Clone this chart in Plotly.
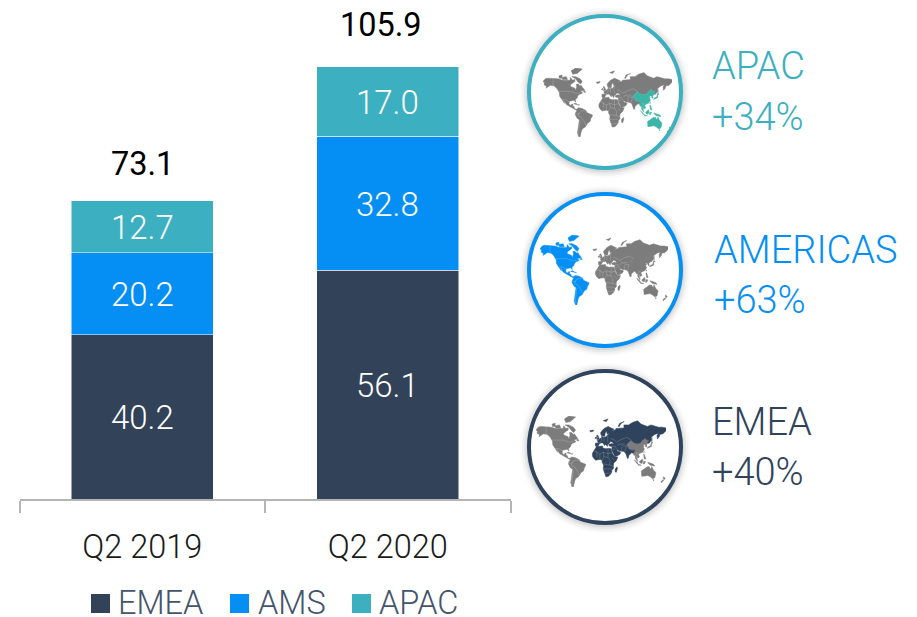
import numpy as np
import plotly.graph_objects as go

# the page body has an 8px margin, so the figure covers the window from (8, 8)
PAGE_MARGIN = 8
W, H = 917 - PAGE_MARGIN, 617 - PAGE_MARGIN

# ---- chart data ----
categories = ["Q2 2019", "Q2 2020"]
emea_values = [40.2, 56.1]
ams_values = [20.2, 32.8]
apac_values = [12.7, 17.0]
totals = [73.1, 105.9]
total_labels = ["73.1", "105.9"]

legend_names = ["EMEA", "AMS", "APAC"]
region_titles = ["APAC", "AMERICAS", "EMEA"]
region_growth = ["+34%", "+63%", "+40%"]

DARK = "#324359"
BLUE = "#058ff5"
CYAN = "#3cafc0"
TEAL = "#3cb5a6"
GREY = "#7c7c7c"
FONT = "Roboto"

# ---- world outlines, lon/lat ----
americas_land = [
    [(-168,66),(-162,70),(-156,71),(-141,70),(-128,70),(-115,68),(-108,68),(-95,68),(-94,72),(-88,68),(-82,69),(-82,66),(-87,64),(-94,61),(-94,58),(-88,57),(-82,55),(-80,51),(-79,54),(-77,57),(-78,62),(-73,62),(-68,59),(-65,60),(-61,56),(-56,52),(-60,50),(-66,50),(-65,48),(-61,46),(-66,44),(-70,43),(-74,40),(-76,35),(-81,31),(-80,26),(-82,27),(-84,30),(-90,29),(-97,28),(-98,22),(-95,18),(-91,19),(-90,21),(-87,21),(-88,16),(-84,15),(-83,10),(-80,9),(-77,8),(-80,7),(-85,10),(-92,14),(-97,16),(-105,20),(-109,26),(-113,31),(-110,23),(-115,30),(-118,34),(-123,39),(-124,47),(-130,54),(-138,59),(-148,60),(-153,58),(-160,55),(-158,58),(-165,61),(-164,64)],
    [(-90,73),(-80,73),(-68,70),(-62,66),(-67,62),(-73,65),(-80,70)],
    [(-118,72),(-105,73),(-102,69),(-115,69)],
    [(-92,80),(-80,83),(-62,82),(-76,77),(-88,76)],
    [(-125,74),(-116,75),(-118,71),(-124,71)],
    [(-59,48),(-53,47),(-56,51)],
    [(-85,22),(-80,23),(-74,20),(-78,20)],
    [(-74,19),(-69,19),(-71,18)],
    [(-78,8),(-72,12),(-62,10),(-52,5),(-50,0),(-44,-2),(-35,-6),(-35,-9),(-39,-15),(-41,-22),(-48,-26),(-53,-34),(-57,-36),(-62,-39),(-65,-45),(-68,-51),(-68,-55),(-72,-54),(-75,-47),(-73,-37),(-70,-18),(-76,-14),(-81,-5),(-80,0),(-77,4)],
]
emea_land = [
    [(-6,36),(10,37),(11,33),(20,31),(25,32),(33,31),(34,27),(38,18),(43,12),(51,12),(47,3),(40,-3),(39,-10),(40,-15),(35,-20),(35,-24),(32,-29),(26,-34),(19,-35),(15,-27),(12,-17),(13,-8),(9,-1),(9,4),(4,6),(-4,5),(-8,4),(-13,8),(-17,14),(-17,21),(-13,27),(-10,31)],
    [(49,-12),(50,-16),(47,-25),(44,-24),(44,-17)],
    [(-9,37),(-9,43),(-1,44),(-4,48),(2,51),(8,54),(8,57),(11,54),(20,55),(24,59),(30,60),(22,60),(21,65),(17,61),(16,56),(12,56),(6,58),(5,62),(14,68),(25,71),(33,69),(41,67),(34,65),(44,66),(46,68),(60,69),(68,69),(67,73),(80,73),(90,76),(104,78),(113,74),(130,71),(140,73),(160,70),(170,70),(180,69),(180,65),(172,60),(163,59),(162,55),(157,51),(156,57),(160,61),(150,59),(140,54),(141,49),(135,43),(131,43),(131,45),(135,48),(127,50),(123,53),(120,50),(116,48),(112,44),(105,42),(97,43),(90,46),(87,49),(80,43),(74,39),(79,33),(81,30),(88,28),(97,28),(92,21),(88,22),(80,15),(80,10),(77,8),(73,18),(72,21),(67,25),(61,25),(57,26),(52,28),(48,30),(51,25),(56,25),(59,22),(55,17),(45,13),(43,13),(39,21),(35,28),(35,32),(36,36),(28,37),(27,40),(34,42),(41,41),(37,45),(31,46),(28,42),(24,40),(23,36),(20,40),(14,45),(18,40),(16,38),(10,44),(3,43),(0,39),(-2,37),(-5,36)],
    [(-5,50),(1,51),(0,54),(-3,58),(-6,57),(-3,54)],
    [(-10,52),(-6,52),(-6,55),(-9,54)],
    [(-24,65),(-14,66),(-15,64),(-22,63)],
    [(52,71),(56,75),(68,77),(60,75),(55,71)],
    [(12,78),(25,80),(20,77)],
    [(142,54),(143,47),(142,46)],
]
apac_land = [
    [(131,43),(131,45),(135,48),(127,50),(123,53),(120,50),(116,48),(112,44),(105,42),(97,43),(90,46),(87,49),(80,43),(74,39),(79,33),(81,30),(88,28),(97,28),(92,21),(94,16),(98,16),(98,9),(103,2),(104,1),(103,6),(100,13),(105,9),(109,12),(106,19),(110,21),(118,24),(122,30),(119,35),(122,37),(118,39),(122,40),(125,39),(126,35),(129,35),(128,39),(130,42)],
    [(130,32),(136,34),(141,36),(141,41),(145,44),(141,45),(139,38),(132,35)],
    [(120,23),(122,25),(121,22)],
    [(120,18),(122,18),(124,12),(126,7),(122,7),(120,14)],
    [(109,1),(117,7),(118,1),(115,-4),(110,-2)],
    [(95,5),(104,-2),(106,-6),(101,-3)],
    [(105,-6),(114,-7),(114,-8),(106,-8)],
    [(119,-5),(120,1),(125,1),(122,-5)],
    [(131,-1),(141,-3),(147,-6),(150,-10),(143,-9),(138,-8),(133,-4)],
    [(114,-22),(122,-18),(130,-12),(136,-12),(136,-15),(140,-17),(142,-11),(146,-19),(153,-26),(150,-37),(144,-39),(138,-35),(131,-32),(124,-33),(115,-34)],
    [(145,-41),(148,-41),(147,-43)],
    [(173,-35),(178,-38),(175,-41),(173,-39)],
    [(172,-41),(174,-42),(168,-47),(166,-45)],
]
borders = [
    [(-141,70),(-141,60),(-131,55)],
    [(-124,49),(-95,49),(-83,46),(-75,45),(-67,47)],
    [(-117,32),(-106,31),(-97,26)],
    [(-52,4),(-60,5),(-70,1),(-74,-8),(-66,-11),(-58,-20),(-54,-26),(-53,-33)],
    [(-70,-18),(-68,-22),(-71,-40),(-72,-52)],
    [(-80,-3),(-70,-3)],
    [(-13,27),(3,19),(12,23),(25,20),(37,22)],
    [(25,32),(25,10),(30,4),(30,-8),(40,-11)],
    [(-5,25),(-5,11)],
    [(3,19),(3,6)],
    [(12,23),(14,13),(9,4)],
    [(14,13),(25,10)],
    [(34,10),(42,4)],
    [(13,-5),(30,-8)],
    [(12,-17),(35,-17)],
    [(15,-28),(33,-26)],
    [(8,54),(7,47),(-1,43)],
    [(14,54),(14,46)],
    [(24,59),(24,44)],
    [(31,52),(40,50),(48,45),(60,50),(75,54),(87,49)],
    [(50,37),(54,42),(66,37),(74,37)],
    [(62,25),(61,35)],
    [(74,37),(70,25)],
    [(44,37),(36,36)],
    [(48,30),(44,37)],
    [(44,30),(35,30)],
    [(60,42),(70,41)],
    [(98,24),(102,21),(106,22)],
    [(98,16),(102,21)],
    [(100,13),(105,15)],
]

# pixel boxes of the three inset maps (left, right, top, bottom)
map_boxes = [(543, 672, 68, 137), (540, 668, 235, 305), (536, 666, 416, 487)]
# circle centres of the inset badges
badge_centres = [(605, 92), (605, 270), (605, 447)]
badge_radius = 76
badge_colors = [CYAN, BLUE, "#2f435c"]
map_highlights = [(apac_land, TEAL), (americas_land, BLUE), (emea_land, "#2f435c")]


def px(x):
    return (x - PAGE_MARGIN) / W


def py(y):
    return 1 - (y - PAGE_MARGIN) / H


def miller(lat):
    return 1.25 * np.log(np.tan(np.pi / 4 + 0.4 * np.radians(lat)))


def rings(groups):
    xs, ys = [], []
    for g in groups:
        pts = list(g)
        for lon, lat in pts + [pts[0]]:
            xs.append(lon)
            ys.append(float(miller(lat)))
        xs.append(None)
        ys.append(None)
    return xs, ys


def lines(groups):
    xs, ys = [], []
    for g in groups:
        for lon, lat in g:
            xs.append(lon)
            ys.append(float(miller(lat)))
        xs.append(None)
        ys.append(None)
    return xs, ys


fig = go.Figure()
annotations = []

series = [("EMEA", emea_values, DARK), ("AMS", ams_values, BLUE), ("APAC", apac_values, CYAN)]
base = [0.0, 0.0]
for name, vals, col in series:
    fig.add_trace(go.Bar(
        x=categories, y=vals, name=name, marker=dict(color=col, line=dict(color="white", width=0.5)),
        width=0.578, showlegend=False, hoverinfo="x+y+name",
    ))
    for j, (cat, v) in enumerate(zip(categories, vals)):
        annotations.append(dict(x=cat, y=base[j] + v / 2, xref="x", yref="y", text=f"{v:.1f}",
                                showarrow=False, yanchor="middle", yshift=-1,
                                font=dict(family=FONT, size=33, color="white", weight=300)))
        base[j] += v

all_land = [americas_land, emea_land, apac_land]
for i, (box, (hl, hl_col)) in enumerate(zip(map_boxes, map_highlights)):
    n = str(i + 2)
    rest = [g for land in all_land if land is not hl for g in land]
    for groups, col in ((rest, GREY), (hl, hl_col)):
        xs, ys = rings(groups)
        fig.add_trace(go.Scatter(x=xs, y=ys, xaxis="x" + n, yaxis="y" + n, mode="lines",
                                 fill="toself", fillcolor=col, line=dict(color=col, width=0.5),
                                 hoverinfo="skip", showlegend=False))
    bx, by = lines(borders)
    fig.add_trace(go.Scatter(x=bx, y=by, xaxis="x" + n, yaxis="y" + n, mode="lines",
                             line=dict(color="rgba(255,255,255,0.45)", width=0.4),
                             hoverinfo="skip", showlegend=False))
    l, r, t, b = box
    hidden = dict(visible=False, fixedrange=True)
    fig.update_layout(**{
        "xaxis" + n: dict(domain=[px(l), px(r)], range=[-168, 180], anchor="y" + n, **hidden),
        "yaxis" + n: dict(domain=[py(b), py(t)], range=[float(miller(-55)), float(miller(83))], anchor="x" + n, **hidden),
    })

shapes = []
for (cx, cy), col in zip(badge_centres, badge_colors):
    for dr, op in ((9, 0.02), (7, 0.03), (5, 0.045), (3, 0.06)):
        R = badge_radius + dr
        shapes.append(dict(type="circle", xref="paper", yref="paper", layer="below",
                           x0=px(cx - R), x1=px(cx + R), y0=py(cy + 1 + R), y1=py(cy + 1 - R),
                           line=dict(width=0), fillcolor=f"rgba(0,0,0,{op})"))
    R = badge_radius
    shapes.append(dict(type="circle", xref="paper", yref="paper", layer="below",
                       x0=px(cx - R), x1=px(cx + R), y0=py(cy + R), y1=py(cy - R),
                       line=dict(color=col, width=4), fillcolor="white"))


def text(x, y, s, size, color, anchor="left"):
    annotations.append(dict(xref="paper", yref="paper", x=px(x), y=py(y), text=s, showarrow=False,
                            xanchor=anchor, yanchor="middle",
                            font=dict(family=FONT, size=size, color=color, weight=300)))


# totals above the stacks
for cat, total, label, yshift, xshift in zip(categories, totals, total_labels, (37, 42), (0.5, -7)):
    annotations.append(dict(x=cat, y=total, xref="x", yref="y", text=label, showarrow=False,
                            yshift=yshift, xshift=xshift, yanchor="middle",
                            font=dict(family=FONT, size=32.5, color="#000000", weight=400)))

# side labels
title_pos = [(710, 66, 117), (711.5, 250, 300), (710, 422, 472)]
title_colors = [CYAN, BLUE, "#2f435c"]
for (x, y1, y2), t, g, col in zip(title_pos, region_titles, region_growth, title_colors):
    text(x, y1, t, 38, col)
    text(x, y2, g, 38, col)

# legend
legend_pos = [(91, 116), (230, 256), (352, 377)]
for (sx, tx), name, (_, _, col) in zip(legend_pos, legend_names, series):
    shapes.append(dict(type="rect", xref="paper", yref="paper", x0=px(sx), x1=px(sx + 19),
                       y0=py(613), y1=py(594), fillcolor=col, line=dict(width=0)))
    text(tx, 603, name, 32.5, "#44546a")

fig.update_layout(
    width=W, height=H, margin=dict(l=0, r=0, t=0, b=0), barmode="stack",
    paper_bgcolor="white", plot_bgcolor="rgba(0,0,0,0)", showlegend=False,
    shapes=shapes, annotations=annotations,
    xaxis=dict(domain=[px(19.5), px(510.5)], type="category", range=[-0.5, 1.5], tickson="boundaries",
               ticks="outside", ticklen=12, tickwidth=2, tickcolor="#b5b5b5",
               showline=True, linecolor="#b5b5b5", linewidth=2, showgrid=False, zeroline=False,
               ticklabelstandoff=18,
               tickfont=dict(family=FONT, size=32.5, color="#1a1a1a", weight=300), fixedrange=True),
    yaxis=dict(domain=[py(499), 1], range=[0, (499 - PAGE_MARGIN) / 4.08], visible=False, fixedrange=True),
)

fig.write_html("out.html")
